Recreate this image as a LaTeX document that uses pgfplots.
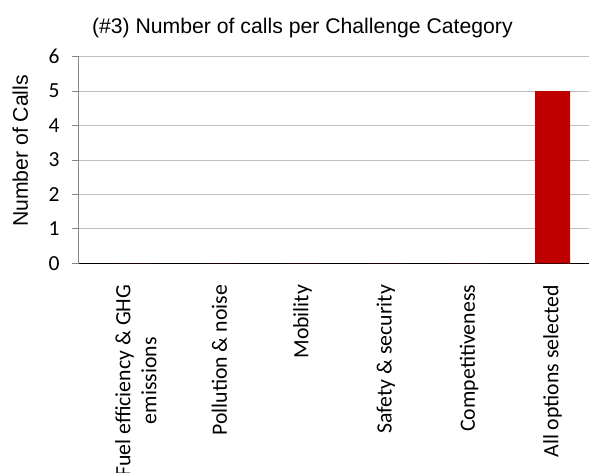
\documentclass[border=0pt]{standalone}
\usepackage{pgfplots}
\pgfplotsset{compat=1.18}
\usepackage{fontspec}
\setmainfont{Liberation Sans}
\newfontfamily\calibri{Carlito}
\definecolor{barred}{HTML}{C00000}
\definecolor{gridgray}{HTML}{BFBFBF}
\definecolor{axisgray}{HTML}{868686}

\begin{document}
\begin{tikzpicture}[x=1pt,y=1pt]
\begin{axis}[
  at={(0,0)}, anchor=south west,
  scale only axis, width=510pt, height=206.6pt,
  xmin=-0.684, xmax=5.438, ymin=0, ymax=6,
  axis lines*=left,
  x axis line style={black, line width=1.2pt},
  y axis line style={axisgray, line width=1pt},
  ytick={0,1,2,3,4,5,6},
  xtick={0,1,2,3,4,5},
  xticklabels={{Fuel efficiency \& GHG\\emissions}, {Pollution \& noise}, {Mobility}, {Safety \& security}, {Competitiveness}, {All options selected}},
  xticklabel style={rotate=90, anchor=east, align=center,
    font=\calibri\fontsize{21.8}{26}\selectfont},
  xticklabel shift=11pt,
  yticklabel style={font=\calibri\fontsize{21.5}{24}\selectfont, xshift=-9pt},
  /pgf/number format/assume math mode=true,
  major x tick style={draw=none},
  ytick style={axisgray, line width=1pt},
  tick align=outside, major tick length=7pt,
  ymajorgrids, grid style={gridgray, line width=1pt},
  title={(\#3) Number of calls per Challenge Category},
  title style={at={(0.438,1)}, anchor=base, yshift=17pt,
    font=\fontsize{21.2}{24}\selectfont},
]
\addplot[ybar, fill=barred, draw=none, bar width=35pt]
  coordinates {(0,0) (1,0) (2,0) (3,0) (4,0) (5,5)};
\end{axis}
% axis title on the left
\node[rotate=90, anchor=base, font=\fontsize{21.2}{24}\selectfont]
  at (-51,112.3) {Number of Calls};
\pgfresetboundingbox
\path[use as bounding box] (-79,-208.7) rectangle (510,263.3);
\end{tikzpicture}
\end{document}
